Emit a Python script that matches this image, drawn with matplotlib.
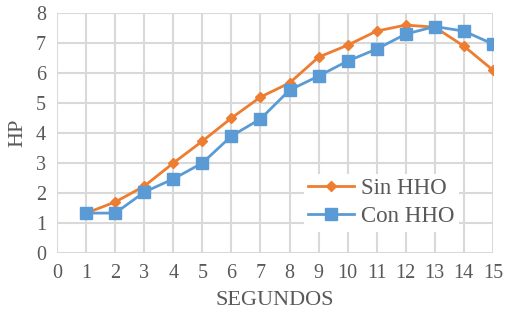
import matplotlib.pyplot as plt

segundos = [1, 2, 3, 4, 5, 6, 7, 8, 9, 10, 11, 12, 13, 14, 15]
sin_hho = [1.33, 1.7, 2.23, 3.0, 3.73, 4.5, 5.2, 5.67, 6.53, 6.93, 7.4, 7.6, 7.53, 6.9, 6.1]
con_hho = [1.33, 1.33, 2.03, 2.47, 3.0, 3.9, 4.47, 5.43, 5.9, 6.4, 6.8, 7.3, 7.55, 7.4, 6.97]

plt.rcParams['font.family'] = ['Liberation Serif', 'DejaVu Serif']
gray = '#595959'

fig = plt.figure(figsize=(5.15, 3.19), dpi=100)
ax = fig.add_axes([0.111, 0.207, 0.846, 0.752])

ax.plot(segundos, sin_hho, color='#ED7D31', marker='D', markersize=5, linewidth=2, label='Sin HHO')
ax.plot(segundos, con_hho, color='#5B9BD5', marker='s', markersize=8, linewidth=2, label='Con HHO')

ax.set_xlim(0, 15)
ax.set_ylim(0, 8)
ax.set_xticks(range(0, 16))
ax.set_yticks(range(0, 9))
ax.grid(True, color='#D9D9D9', linewidth=1.5)
ax.set_axisbelow(True)
for s in ax.spines.values():
    s.set_visible(False)
ax.tick_params(length=0, labelsize=14.5, labelcolor=gray, pad=8)
ax.set_xlabel('SEGUNDOS', fontsize=16, color=gray, labelpad=6)
ax.set_ylabel('HP', fontsize=16, color=gray, labelpad=6)

leg = ax.legend(loc='center left', bbox_to_anchor=(0.54, 0.21),
                prop={'family': 'Liberation Serif', 'size': 16.5},
                frameon=True, fancybox=False, edgecolor='none', facecolor='white',
                framealpha=1, handlelength=2.0, borderpad=0.2, labelspacing=0.3,
                handletextpad=0.3)
for t in leg.get_texts():
    t.set_color(gray)

fig.savefig('out.png', dpi=100)
